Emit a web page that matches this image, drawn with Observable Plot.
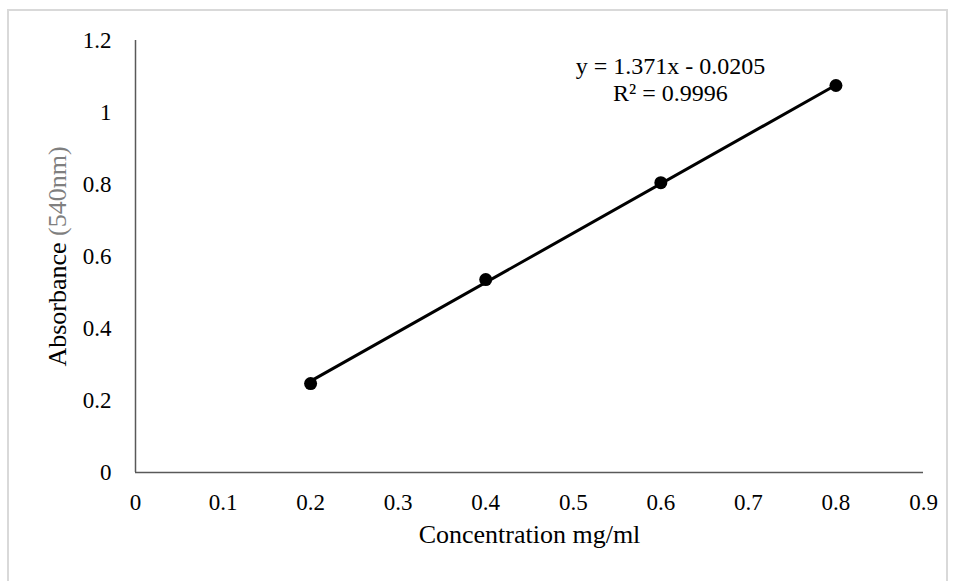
<!DOCTYPE html>
<html>
<head>
<meta charset="utf-8">
<script src="https://cdn.jsdelivr.net/npm/d3@7"></script>
<script src="https://cdn.jsdelivr.net/npm/@observablehq/plot@0.6"></script>
<style>
  html, body { margin: 0; padding: 0; background: #fff; }
  #wrap { position: relative; width: 958px; height: 581px; overflow: hidden; }
  #border { position: absolute; left: 7px; top: 9px; width: 941px; height: 620px; border: 2px solid #d9d9d9; box-sizing: border-box; }
  #chart { position: absolute; left: 0; top: 0; }
</style>
</head>
<body>
<div id="wrap"><div id="border"></div><div id="chart"></div></div>
<script>
const concentration = [0.2, 0.4, 0.6, 0.8];
const absorbance = [0.247, 0.536, 0.805, 1.075];
const xTicks = [0, 0.1, 0.2, 0.3, 0.4, 0.5, 0.6, 0.7, 0.8, 0.9];
const yTicks = [0, 0.2, 0.4, 0.6, 0.8, 1, 1.2];
const slope = 1.371;
const intercept = -0.0205;
const equationLines = ["y = 1.371x - 0.0205", "R² = 0.9996"];
const xTitle = "Concentration mg/ml";
const yTitle = "Absorbance (540nm)";

const points = concentration.map((c, i) => ({x: c, y: absorbance[i]}));
const fit = [concentration[0], concentration[concentration.length - 1]].map(x => ({x, y: slope * x + intercept}));

const chart = Plot.plot({
  width: 958,
  height: 581,
  marginLeft: 135,
  marginRight: 35,
  marginTop: 40,
  marginBottom: 109,
  style: {fontFamily: "'Liberation Serif', 'Times New Roman', serif", fontSize: "23px", color: "#000", background: "transparent"},
  x: {domain: [0, 0.9]},
  y: {domain: [0, 1.2]},
  marks: [
    Plot.axisX({ticks: xTicks, tickFormat: d => String(d), label: null, tickSize: 0, tickPadding: 21, fontSize: 23, fill: "#000"}),
    Plot.axisY({ticks: yTicks, tickFormat: d => String(d), label: null, tickSize: 0, tickPadding: 24, fontSize: 23, fill: "#000"}),
    Plot.ruleX([0], {stroke: "#595959", strokeWidth: 1.5}),
    Plot.ruleY([0], {stroke: "#595959", strokeWidth: 1.5}),
    Plot.line(fit, {x: "x", y: "y", stroke: "#000", strokeWidth: 3}),
    Plot.dot(points, {x: "x", y: "y", r: 6.5, fill: "#000", stroke: "none"}),
    Plot.text([equationLines.join("\n")], {x: 0.611, y: 1.093, text: d => d, textAnchor: "middle", lineHeight: 1.14, fontSize: 24, fill: "#000"}),
    Plot.text([xTitle], {frameAnchor: "bottom", dy: 70, text: d => d, fontSize: 26, fill: "#000"}),
    Plot.text([yTitle], {frameAnchor: "left", dx: -78, rotate: -90, textAnchor: "middle", text: d => d, fontSize: 26, fill: "#000"})
  ]
});
document.getElementById("chart").appendChild(chart);

d3.select(chart).selectAll("text").each(function() {
  if (this.textContent === yTitle) {
    const el = d3.select(this);
    el.text(null);
    el.append("tspan").text("Absorbance ");
    el.append("tspan").attr("fill", "#7f7f7f").text("(540nm)");
  }
});
</script>
</body>
</html>
